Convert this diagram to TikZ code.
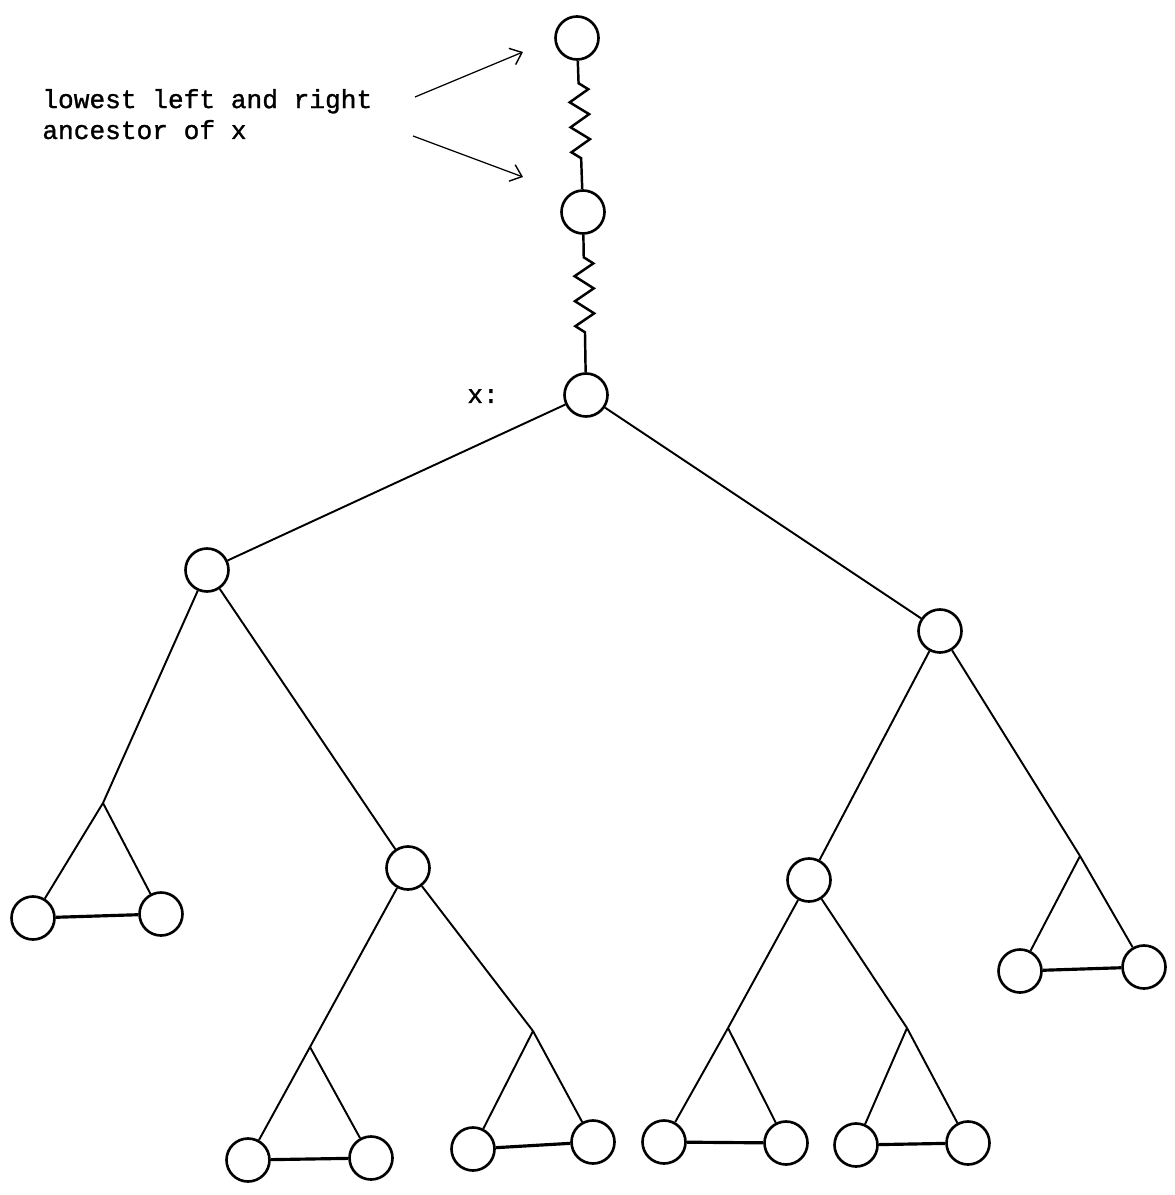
\documentclass[tikz,border=0pt]{standalone}
\usepackage{fontspec}
\newfontfamily\typer[FakeBold=1.2]{Liberation Mono}
\usetikzlibrary{arrows.meta,decorations.pathmorphing}
\begin{document}
\begin{tikzpicture}[x=0.02cm,y=-0.02cm,
  vertex/.style={circle,draw,line width=1.5pt,minimum size=0.86cm,inner sep=0pt},
  edge/.style={line width=1.1pt},
  rung/.style={line width=1.8pt},
  spring/.style={line width=1.4pt,decorate,
    decoration={zigzag,segment length=0.5cm,amplitude=0.19cm,pre length=0.45cm,post length=0.55cm}},
  pointer/.style={line width=0.7pt,-{Straight Barb[length=6pt,width=10pt,line width=0.8pt]}},
  lbl/.style={font=\typer\fontsize{14.9}{17.6}\selectfont,inner sep=0pt}]
\useasboundingbox (0,0) rectangle (1174,1195);

% ancestor chain
\node[vertex] (top) at (577,38) {};
\node[vertex] (mid) at (583,212) {};
\node[vertex] (x) at (586,395) {};
\draw[spring] (top) -- (mid);
\draw[spring] (mid) -- (x);

% annotation (base anchor sits on the last line)
\node[lbl,anchor=base west,align=left] (note) at (42,139) {lowest left and right\\ancestor of x};
\node[lbl,anchor=base west] (xlab) at (467,403) {x:};
\coordinate (a1s) at (415,97);
\coordinate (a1e) at (523,52);
\coordinate (a2s) at (413,136);
\coordinate (a2e) at (523,177);
\draw[pointer] (a1s) -- (a1e);
\draw[pointer] (a2s) -- (a2e);

% internal nodes
\node[vertex] (L) at (207,570) {};
\node[vertex] (R) at (940,631) {};
\node[vertex] (LR) at (408,868) {};
\node[vertex] (RL) at (809,880) {};

% branch points
\coordinate (bLL) at (103,803);
\coordinate (bLRL) at (310,1047);
\coordinate (bLRR) at (533,1031);
\coordinate (bRLL) at (728,1028);
\coordinate (bRLR) at (907,1028);
\coordinate (bRR) at (1080,856);

% leaves
\node[vertex] (l1) at (33,918) {};
\node[vertex] (l2) at (161,914) {};
\node[vertex] (l3) at (248,1160) {};
\node[vertex] (l4) at (371,1158) {};
\node[vertex] (l5) at (473,1149) {};
\node[vertex] (l6) at (593,1142) {};
\node[vertex] (l7) at (664,1142) {};
\node[vertex] (l8) at (786,1143) {};
\node[vertex] (l9) at (856,1145) {};
\node[vertex] (l10) at (968,1143) {};
\node[vertex] (l11) at (1020,971) {};
\node[vertex] (l12) at (1144,967) {};

% tree edges
\draw[edge] (x) -- (L);
\draw[edge] (x) -- (R);
\draw[edge] (L) -- (bLL);
\draw[edge] (L) -- (LR);
\draw[edge] (LR) -- (bLRL);
\draw[edge] (LR) -- (bLRR);
\draw[edge] (R) -- (RL);
\draw[edge] (R) -- (bRR);
\draw[edge] (RL) -- (bRLL);
\draw[edge] (RL) -- (bRLR);

\draw[edge] (bLL) -- (l1);   \draw[edge] (bLL) -- (l2);
\draw[edge] (bLRL) -- (l3);  \draw[edge] (bLRL) -- (l4);
\draw[edge] (bLRR) -- (l5);  \draw[edge] (bLRR) -- (l6);
\draw[edge] (bRLL) -- (l7);  \draw[edge] (bRLL) -- (l8);
\draw[edge] (bRLR) -- (l9);  \draw[edge] (bRLR) -- (l10);
\draw[edge] (bRR) -- (l11);  \draw[edge] (bRR) -- (l12);

% leaf pairs
\draw[rung] (l1) -- (l2);
\draw[rung] (l3) -- (l4);
\draw[rung] (l5) -- (l6);
\draw[rung] (l7) -- (l8);
\draw[rung] (l9) -- (l10);
\draw[rung] (l11) -- (l12);
\end{tikzpicture}
\end{document}
